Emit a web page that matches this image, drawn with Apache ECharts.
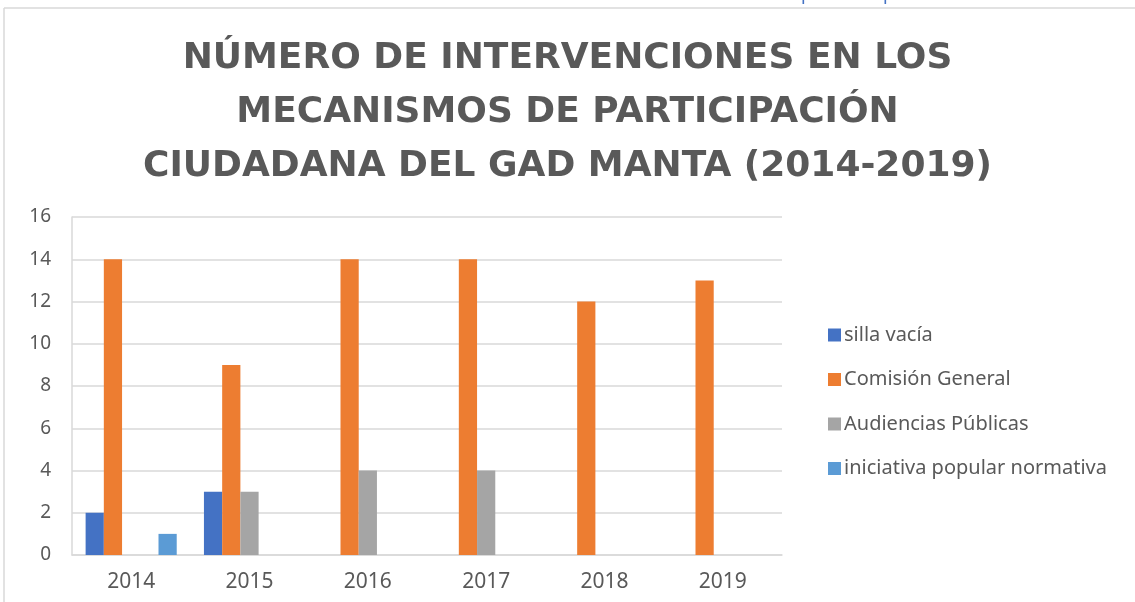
<!DOCTYPE html>
<html>
<head>
<meta charset="utf-8">
<script src="https://cdn.jsdelivr.net/npm/echarts@6/dist/echarts.min.js"></script>
<style>
  html, body { margin: 0; padding: 0; background: #fff; }
  #chart { width: 1135px; height: 602px; }
</style>
</head>
<body>
<div id="chart"></div>
<script>
var years = ['2014', '2015', '2016', '2017', '2018', '2019'];
var sillaVacia = [2, 3, 0, 0, 0, 0];
var comisionGeneral = [14, 9, 14, 14, 12, 13];
var audiencias = [0, 3, 4, 4, 0, 0];
var sinNombre = [0, 0, 0, 0, 0, 0]; // serie vacia que ocupa un hueco
var iniciativa = [1, 0, 0, 0, 0, 0];
var yTicks = [0, 2, 4, 6, 8, 10, 12, 14, 16];

var gris = '#595959';
var chart = echarts.init(document.getElementById('chart'));

function barra(nombre, datos, color) {
  return {
    name: nombre,
    type: 'bar',
    data: datos,
    barGap: 0,
    barCategoryGap: '23%',
    itemStyle: { color: color },
    silent: true
  };
}

chart.setOption({
  animation: false,
  title: {
    text: 'NÚMERO DE INTERVENCIONES EN LOS\nMECANISMOS DE PARTICIPACIÓN\nCIUDADANA DEL GAD MANTA (2014-2019)',
    left: 'center',
    top: 27,
    textStyle: {
      fontFamily: 'DejaVu Sans',
      fontWeight: 'bold',
      fontSize: 36,
      lineHeight: 54,
      color: gris
    }
  },
  legend: {
    orient: 'vertical',
    left: 823,
    top: 320,
    itemWidth: 13,
    itemHeight: 13,
    itemGap: 24.5,
    icon: 'rect',
    data: ['silla vacía', 'Comisión General', 'Audiencias Públicas', 'iniciativa popular normativa'],
    textStyle: { fontFamily: 'Noto Sans', fontSize: 20, color: gris, padding: [0, 0, 0, -2] }
  },
  grid: { left: 72, right: 353, top: 217, bottom: 47 },
  xAxis: {
    type: 'category',
    data: years,
    axisTick: { show: false },
    axisLine: { lineStyle: { color: '#d9d9d9', width: 1.5 } },
    axisLabel: { fontFamily: 'Noto Sans', fontSize: 21, color: gris, margin: 17 }
  },
  yAxis: {
    type: 'value',
    min: yTicks[0],
    max: yTicks[yTicks.length - 1],
    interval: 2,
    axisLine: { show: true, lineStyle: { color: '#d9d9d9', width: 1.5 } },
    axisTick: { show: false },
    splitLine: { lineStyle: { color: '#d9d9d9', width: 1.5 } },
    axisLabel: { fontFamily: 'Noto Sans', fontSize: 19, color: gris, margin: 21 }
  },
  graphic: [
    { type: 'line', shape: { x1: 4, y1: 8, x2: 1135, y2: 8 }, style: { stroke: '#d9d9d9', lineWidth: 1.5 } },
    { type: 'line', shape: { x1: 4, y1: 8, x2: 4, y2: 602 }, style: { stroke: '#d9d9d9', lineWidth: 1.5 } },
    { type: 'text', left: 801, top: -14, style: { text: 'p', fill: '#4472C4', font: '18px "Noto Sans"' } },
    { type: 'text', left: 883, top: -14, style: { text: 'p', fill: '#4472C4', font: '18px "Noto Sans"' } }
  ],
  series: [
    barra('silla vacía', sillaVacia, '#4472C4'),
    barra('Comisión General', comisionGeneral, '#ED7D31'),
    barra('Audiencias Públicas', audiencias, '#A5A5A5'),
    barra('', sinNombre, '#FFC000'),
    barra('iniciativa popular normativa', iniciativa, '#5B9BD5')
  ]
});
</script>
</body>
</html>
